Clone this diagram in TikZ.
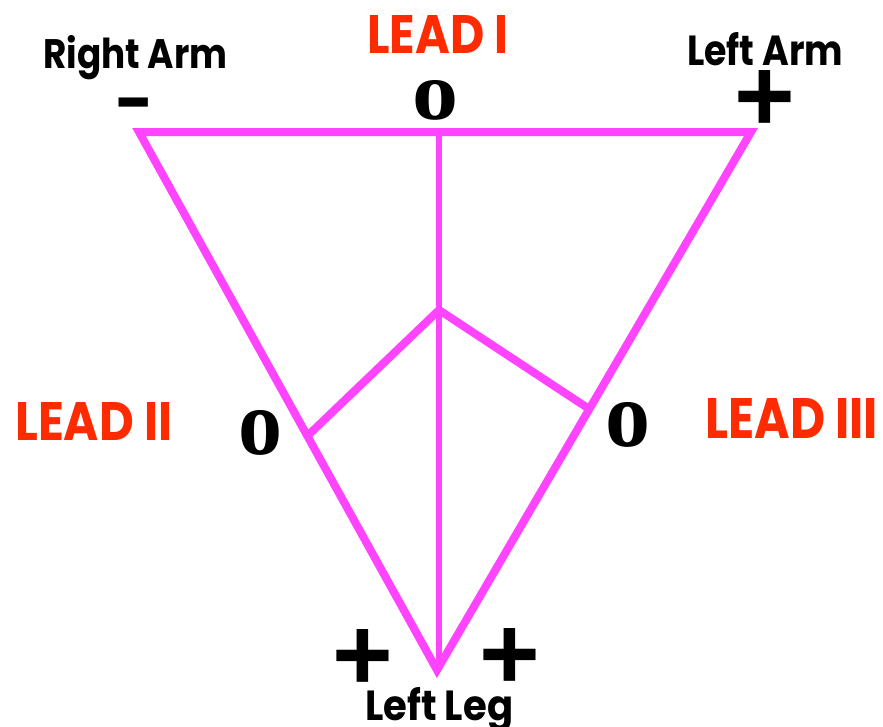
\documentclass[tikz,border=0pt]{standalone}
\usepackage{fontspec}
\setmainfont{Poppins}
\newfontfamily\signfont{Liberation Sans}
\newfontfamily\zerofont{Liberation Serif}
\usetikzlibrary{calc}
\definecolor{leadpink}{RGB}{255,68,255}
\definecolor{leadred}{RGB}{255,43,0}
% set a label into a box of the given width and height (in pt)
\newcommand\fitlabel[3]{\resizebox{#1pt}{#2pt}{#3}}

\begin{document}
\begin{tikzpicture}[x=1pt,y=-1pt,
  wire/.style={draw=leadpink,line width=8pt,line join=miter},
  axisline/.style={draw=leadpink,line width=6.5pt},
  txt/.style={inner sep=0pt,anchor=base west,font=\bfseries},
  leadlbl/.style={txt,text=leadred},
  limblbl/.style={txt,text=black},
  zero/.style={inner sep=0pt,anchor=base west,font=\zerofont\bfseries},
  plussign/.style={inner sep=0pt,anchor=base,font=\signfont\bfseries\fontsize{104}{104}\selectfont},
  minussign/.style={inner sep=0pt,anchor=base,font=\signfont\bfseries\fontsize{77}{77}\selectfont}]
\useasboundingbox (0,0) rectangle (883,726);

% Einthoven's triangle
\coordinate (RA) at (139,132);
\coordinate (LA) at (751,132);
\coordinate (LL) at (437,670);
\draw[wire] (RA) -- (LA) -- (LL) -- cycle;

% zero points of the three leads and the central axes
\coordinate (top) at (439,132);
\coordinate (bot) at (439,668);
\coordinate (hub) at (439,310);
\coordinate (f2) at ($(RA)!0.565!(LL)$);
\coordinate (f3) at ($(LA)!0.515!(LL)$);
\draw[axisline] (top) -- (bot);
\draw[wire] (f2) -- (hub) -- (f3);

% lead names
\node[leadlbl] (lead1) at (367,53) {\fitlabel{141}{38}{LEAD I}};
\node[leadlbl] (lead2) at (15,440) {\fitlabel{157}{38}{LEAD II}};
\node[leadlbl] (lead3) at (705,438) {\fitlabel{173}{40}{LEAD III}};

% limb names
\node[limblbl] (rarm) at (43,68) {\fitlabel{184}{33}{Right Arm}};
\node[limblbl] (larm) at (687,65) {\fitlabel{156}{33}{Left Arm}};
\node[limblbl] (lleg) at (365,720) {\fitlabel{148}{33}{Left Leg}};

% zero marks
\node[zero] (z1) at (412,119) {\fitlabel{46}{39}{o}};
\node[zero] (z2) at (238,454) {\fitlabel{44}{44}{o}};
\node[zero] (z3) at (605,446) {\fitlabel{45}{44}{o}};

% polarity signs
\node[minussign] (mra) at (134,122) {\scalebox{1.5}[1]{-}};
\node[plussign] (pla) at (765,131) {+};
\node[plussign] (pl2) at (363,690) {+};
\node[plussign] (pl3) at (510,689) {+};
\end{tikzpicture}
\end{document}
